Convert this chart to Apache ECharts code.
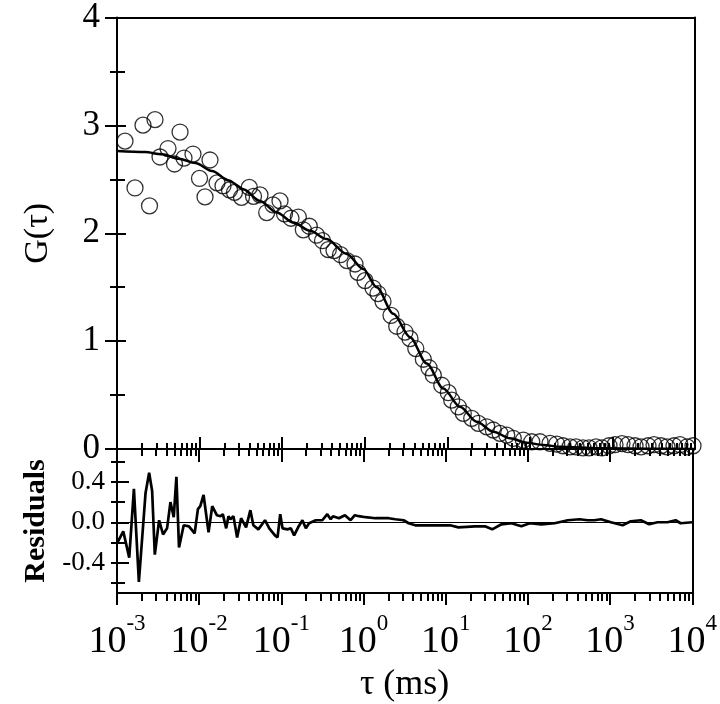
<!DOCTYPE html>
<html><head><meta charset="utf-8">
<script src="https://cdn.jsdelivr.net/npm/echarts@6/dist/echarts.min.js"></script>
<style>html,body{margin:0;padding:0;background:#fff}#c{width:720px;height:704px}</style>
</head><body><div id="c"></div>
<script>
// ---- data: correlation points (tau in ms, G) ----
const tau = [1.25e-3,1.652e-3,2.065e-3,2.476e-3,2.885e-3,3.318e-3,4.147e-3,4.97e-3,5.8e-3,6.48e-3,8.32e-3,9.98e-3,
  0.01164,0.01337,0.01626,0.01922,0.02304,0.02649,0.0322,0.04,0.045,0.0539,0.065,0.0775,0.0942,
  0.1068,0.128,0.157,0.1805,0.2133,0.2607,0.3083,0.3622,0.4247,0.509,0.61,0.763,0.829,
  1.008,1.26,1.448,1.665,2.082,2.44,3.075,3.536,4.156,5.125,6.006,6.77,8.56,
  10.29,11.31,13.6,15.63,19.76,23.76,30.02,36.08,43.5,52.45,63.0,83.3,
  105.3,132.7,175.4,211.4,252.1,306.4,362.2,440.4,520.4,632.6,747.6,909.1,
  1075,1306,1545,1877,2219,2697,3189,3876,4581,5569,6582,8003,9461];
const g = [2.854,2.42,3.002,2.254,3.053,2.707,2.785,2.642,2.938,2.697,2.734,2.508,
  2.337,2.679,2.467,2.439,2.402,2.379,2.333,2.425,2.342,2.356,2.192,2.263,2.3,
  2.18,2.139,2.15,2.032,2.065,1.982,1.931,1.848,1.839,1.801,1.746,1.715,1.638,
  1.561,1.492,1.441,1.367,1.238,1.138,1.084,1.023,0.931,0.832,0.753,0.684,0.591,
  0.522,0.453,0.391,0.33,0.284,0.238,0.206,0.176,0.145,0.129,0.099,0.083,
  0.067,0.067,0.052,0.046,0.03,0.02,0.02,0.01,0.01,0.02,0.01,0.03,
  0.04,0.05,0.04,0.03,0.02,0.03,0.04,0.03,0.02,0.03,0.04,0.02,0.03];
// ---- fit curve ----
const fitTau = [1e-3,2.183e-3,3.508e-3,5.587e-3,8.88e-3,0.01414,0.02253,0.03385,0.0539,0.0859,
  0.1365,0.2175,0.3465,0.605,0.9614,1.397,2.221,3.536,5.634,8.951,14.26,22.72,36.09,57.48,91.6,
  145.6,231.8,707.3,2851,10000];
const fitG = [2.762,2.753,2.732,2.691,2.651,2.577,2.49,2.408,2.3,2.192,
  2.1,2.023,1.946,1.808,1.669,1.499,1.254,1.037,0.792,0.561,0.391,0.252,0.16,0.099,0.058,
  0.037,0.021,0.006,0.002,0.0];
// ---- residuals ----
const resTau = [1e-3,1.192e-3,1.409e-3,1.606e-3,1.846e-3,2.226e-3,2.461e-3,2.676e-3,2.885e-3,3.253e-3,
  3.636e-3,4.066e-3,4.471e-3,4.902e-3,5.284e-3,5.682e-3,6.48e-3,7.508e-3,8.807e-3,9.652e-3,
  0.01032,0.01131,0.013,0.01442,0.01639,0.01817,0.01938,0.02131,0.02272,0.02403,0.02612,0.02896,
  0.03237,0.03722,0.04197,0.04562,0.05245,0.06325,0.07129,0.08356,0.08985,0.09687,
  0.1033,0.1187,0.1305,0.1431,0.16,0.1805,0.1983,0.2175,0.2622,0.3151,0.3622,0.3983,0.4247,
  0.502,0.5933,0.6957,0.7843,0.877,1.057,1.397,2.025,2.44,3.075,3.536,4.262,6.175,8.951,
  11.31,14.26,22.72,30.02,36.79,47.69,63.0,83.3,105.3,145.6,211.4,306.4,424.7,535.1,645.1,775.3,
  1025,1420,1790,2366,2990,3770,4982,6278,7216,10000];
const resVal = [-0.21,-0.09,-0.35,0.33,-0.59,0.29,0.49,0.31,-0.32,0.02,
  -0.12,-0.06,0.2,0.05,0.45,-0.25,-0.03,-0.04,-0.11,0.13,
  0.16,0.27,-0.1,0.16,0.07,0.06,0.08,-0.06,0.06,0.03,0.06,-0.15,
  0.04,-0.05,0.12,-0.03,-0.07,0.02,-0.06,-0.13,-0.15,0.08,
  -0.06,-0.07,-0.06,-0.13,-0.05,0.02,-0.06,-0.01,0.02,0.02,0.08,0.03,0.06,
  0.04,0.07,0.02,0.07,0.06,0.05,0.04,0.04,0.03,0.02,-0.01,-0.03,-0.03,-0.03,
  -0.03,-0.05,-0.04,-0.04,-0.07,-0.02,-0.01,-0.04,-0.01,-0.02,-0.01,0.02,0.03,0.02,0.02,0.03,
  0.0,-0.03,0.01,0.02,-0.02,0.0,0.0,0.02,-0.01,0.0];
// ---- axis ticks ----
const decades = [-3,-2,-1,0,1,2,3];
const minorMult = [2,3,4,5,6,7,8,9];
const resLabelTicks = [-0.4,0,0.4];
const resMinorTicks = [-0.6,-0.2,0.2,0.6];

const minorPos = [];
decades.forEach(n => minorMult.forEach(k => minorPos.push(n + Math.log10(k))));

const F = '"Liberation Serif","Times New Roman",serif';
const BL = {color:'#000', width:2};
const noLine = {show:false, onZero:false};
const line = {show:true, onZero:false, lineStyle:BL};
const off = {show:false};
function ax(o){
  return Object.assign({splitLine:off, axisLabel:off, axisTick:off, axisLine:noLine, minorTick:off, axisPointer:off}, o);
}

const xAxis = [
  // grid 0
  ax({gridIndex:0, type:'log', min:1e-3, max:1e4, position:'bottom', axisLine:line,
      axisTick:{show:true, inside:true, length:12, lineStyle:BL}}),
  ax({gridIndex:0, type:'value', min:-3, max:4, position:'bottom',
      axisTick:{show:true, inside:true, length:6, lineStyle:BL, customValues:minorPos}}),
  ax({gridIndex:0, type:'value', min:-3, max:4, position:'top', axisLine:line}),
  // grid 1
  ax({gridIndex:1, type:'log', min:1e-3, max:1e4, position:'bottom', axisLine:line,
      axisTick:{show:true, inside:false, length:12, lineStyle:BL},
      axisLabel:{show:true, margin:19, formatter: v => '{b|10}{e|' + Math.round(Math.log10(v)) + '}',
        rich:{b:{fontFamily:F, fontSize:38, color:'#000', lineHeight:49, verticalAlign:'bottom'},
              e:{fontFamily:F, fontSize:23, color:'#000', lineHeight:24, verticalAlign:'top'}}},
      name:'τ (ms)', nameLocation:'middle', nameGap:74,
      nameTextStyle:{fontFamily:F, fontSize:36, color:'#000'}}),
  ax({gridIndex:1, type:'value', min:-3, max:4, position:'bottom',
      axisTick:{show:true, inside:false, length:8, lineStyle:BL, customValues:minorPos}}),
  ax({gridIndex:1, type:'log', min:1e-3, max:1e4, position:'top', axisLine:line,
      axisTick:{show:true, inside:true, length:13, lineStyle:BL}}),
  ax({gridIndex:1, type:'value', min:-3, max:4, position:'top',
      axisTick:{show:true, inside:true, length:7, lineStyle:BL, customValues:minorPos}})
];

const yAxis = [
  // grid 0
  ax({gridIndex:0, type:'value', min:0, max:4, interval:1, position:'left', axisLine:line,
      axisTick:{show:true, inside:false, length:12, lineStyle:BL},
      minorTick:{show:true, splitNumber:2, length:7, lineStyle:BL},
      axisLabel:{show:true, margin:17, fontFamily:F, fontSize:35, color:'#000'},
      name:'G(τ)', nameLocation:'middle', nameGap:62, nameRotate:90,
      nameTextStyle:{fontFamily:F, fontSize:34, color:'#000'}}),
  ax({gridIndex:0, type:'value', min:0, max:4, interval:1, position:'left',
      axisTick:{show:true, inside:true, length:9, lineStyle:BL},
      minorTick:{show:true, splitNumber:2, length:8, lineStyle:BL}}),
  ax({gridIndex:0, type:'value', min:0, max:4, interval:1, position:'right', axisLine:line}),
  // grid 1
  ax({gridIndex:1, type:'value', min:-0.7, max:0.725, position:'left', axisLine:line,
      axisTick:{show:true, inside:false, length:6, lineStyle:BL, customValues:resLabelTicks.concat(resMinorTicks)},
      axisLabel:{show:true, margin:12, fontFamily:F, fontSize:27, color:'#000', customValues:resLabelTicks,
        formatter: v => v.toFixed(1)},
      name:'Residuals', nameLocation:'middle', nameGap:63, nameRotate:90,
      nameTextStyle:{fontFamily:F, fontSize:30, fontWeight:'bold', color:'#000'}}),
  ax({gridIndex:1, type:'value', min:-0.7, max:0.725, position:'left',
      axisTick:{show:true, inside:true, length:12, lineStyle:BL, customValues:resLabelTicks}}),
  ax({gridIndex:1, type:'value', min:-0.7, max:0.725, position:'left',
      axisTick:{show:true, inside:true, length:8, lineStyle:BL, customValues:resMinorTicks}}),
  ax({gridIndex:1, type:'value', min:-0.7, max:0.725, position:'right', axisLine:line})
];

const option = {
  animation:false,
  backgroundColor:'#fff',
  grid:[{left:117, top:16, width:578, height:433},{left:117, top:449, width:578, height:146}],
  xAxis, yAxis,
  series:[
    {type:'scatter', xAxisIndex:0, yAxisIndex:0, symbol:'circle', symbolSize:16,
     itemStyle:{color:'rgba(0,0,0,0)', borderColor:'#000', borderWidth:1.3},
     data: tau.map((t,i)=>[t,g[i]]), z:2},
    {type:'line', xAxisIndex:0, yAxisIndex:0, showSymbol:false, smooth:0.3, smoothMonotone:'x',
     lineStyle:{color:'#000', width:2.5}, data: fitTau.map((t,i)=>[t,fitG[i]]), z:3},
    {type:'line', xAxisIndex:3, yAxisIndex:3, showSymbol:false,
     lineStyle:{color:'#000', width:2.7}, data: resTau.map((t,i)=>[t,resVal[i]]),
     markLine:{silent:true, symbol:['none','none'], label:{show:false},
       lineStyle:{color:'#000', width:1, type:'solid'}, data:[{yAxis:0}]}}
  ]
};
const chart = echarts.init(document.getElementById('c'), null, {renderer:'canvas'});
chart.setOption(option);
</script></body></html>
